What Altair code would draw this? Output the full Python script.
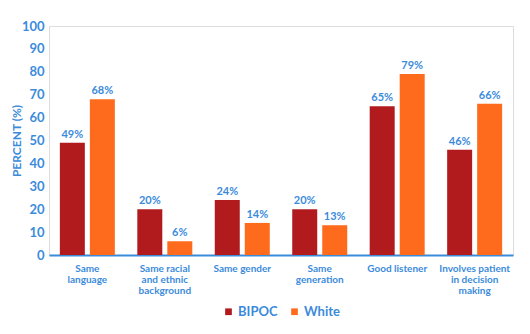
import altair as alt
import pandas as pd

categories = ["Same|language", "Same racial|and ethnic|background", "Same gender",
              "Same|generation", "Good listener", "Involves patient|in decision|making"]
bipoc = [49, 20, 24, 20, 65, 46]
white = [68, 6, 14, 13, 79, 66]
groups = ["BIPOC", "White"]

rows = []
for c, b, w in zip(categories, bipoc, white):
    rows.append({"cat": c, "group": "BIPOC", "value": b})
    rows.append({"cat": c, "group": "White", "value": w})
df = pd.DataFrame(rows)

BLUE = "#3B8BDB"
FONT = "Lato"

x = alt.X("cat:N", sort=categories, title=None,
          scale=alt.Scale(paddingInner=0.29, paddingOuter=0.14),
          axis=alt.Axis(labelAngle=0, labelExpr="split(datum.label, '|')",
                        labelColor=BLUE, labelFont=FONT, labelFontWeight="bold",
                        labelFontSize=10, labelPadding=8, labelLineHeight=11,
                        domainColor=BLUE, domainWidth=2, ticks=False,
                        labelBaseline="top"))
xo = alt.XOffset("group:N", sort=groups, scale=alt.Scale(paddingInner=0.167))
y = alt.Y("value:Q", scale=alt.Scale(domain=[0, 100]),
          axis=alt.Axis(title="PERCENT (%)", values=list(range(0, 101, 10)),
                        grid=False, domain=False, ticks=False, labelOverlap=False,
                        labelColor=BLUE, labelFont=FONT, labelFontWeight="bold",
                        labelFontSize=13, labelPadding=5,
                        titleColor=BLUE, titleFont=FONT, titleFontWeight="bold",
                        titleFontSize=12, titlePadding=-2))

color = alt.Color("group:N", sort=groups, title=None,
                  scale=alt.Scale(domain=groups, range=["#B11B1E", "#FF6B1C"]),
                  legend=alt.Legend(orient="none", legendX=173, legendY=279,
                                    direction="horizontal", symbolType="square",
                                    symbolSize=45, labelColor=BLUE, labelFont=FONT,
                                    labelFontWeight="bold", labelFontSize=13,
                                    columnPadding=10, labelOffset=3,
                                    symbolStrokeWidth=0))

bars = alt.Chart(df).mark_bar().encode(x=x, xOffset=xo, y=y, color=color)
labels = alt.Chart(df).transform_calculate(lbl="datum.value + '%'").mark_text(
    dy=-8, color=BLUE, font=FONT, fontWeight="bold", fontSize=11
).encode(x=x, xOffset=xo, y=y, text="lbl:N")

chart = alt.layer(bars, labels).properties(
    width=464, height=229,
    autosize=alt.AutoSizeParams(type="none"),
    padding={"left": 49, "top": 26, "right": 17, "bottom": 79},
).configure_view(stroke=None).configure(background="white")

chart.save("out.html", embed_options={"renderer": "svg", "actions": False})
